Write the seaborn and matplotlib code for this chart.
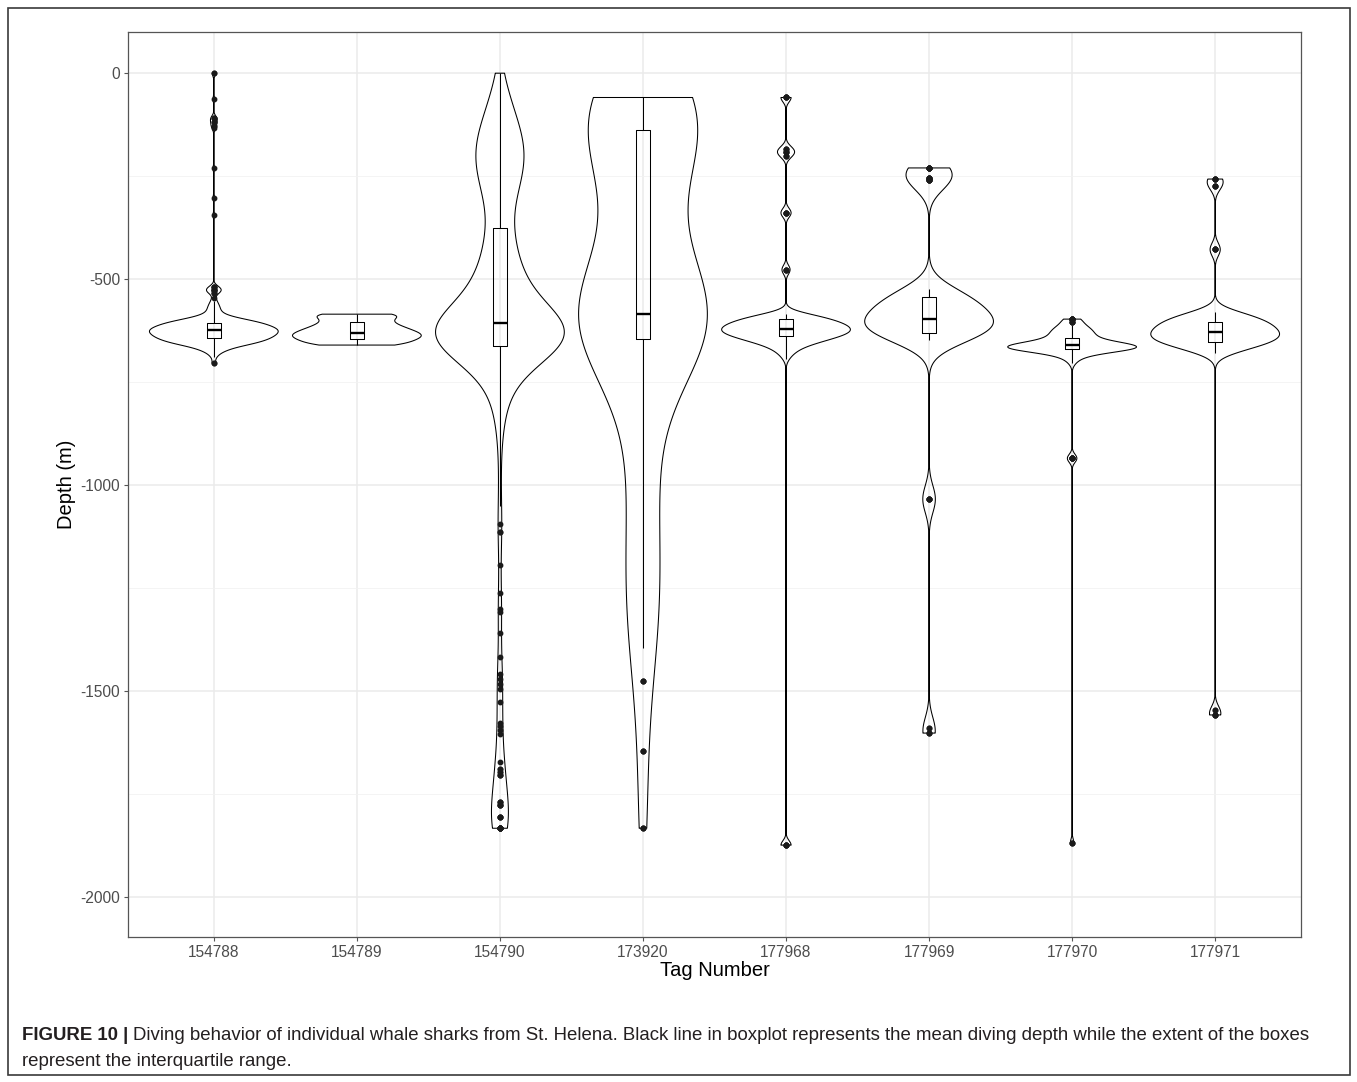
import numpy as np
import pandas as pd
import matplotlib
matplotlib.use("Agg")
import matplotlib.pyplot as plt
import seaborn as sns
from matplotlib.patches import Rectangle
from matplotlib.ticker import MultipleLocator, FuncFormatter

# ---------------------------------------------------------------------------
# Dive depth records per tag: depth value (m) and number of records at it
# ---------------------------------------------------------------------------
tags = ["154788", "154789", "154790", "173920", "177968", "177969", "177970", "177971"]

depth_154788 = [0, -63, -109, -118, -127, -134, -231, -303, -345, -520, -527, -533,
                -545, -553, -561, -569, -577, -585, -593, -600, -606, -612, -618,
                -624, -630, -636, -642, -648, -654, -660, -667, -674, -681, -689, -704]
count_154788 = [2, 1, 3, 2, 2, 1, 1, 1, 1, 4, 5, 3,
                1, 2, 3, 4, 4, 6, 12, 18, 22, 25, 28,
                30, 29, 28, 26, 24, 20, 16, 10, 6, 3, 2, 2]

depth_154789 = [-585, -590, -595, -600, -605, -610, -615, -620, -625, -630, -635,
                -640, -645, -650, -655, -660]
count_154789 = [15, 6, 6, 6, 6, 7, 8, 9, 10, 11, 12, 12, 11, 9, 8, 13]

depth_154790 = [0, -20, -40, -60, -80, -100, -120, -140, -160, -180, -200, -220, -240,
                -260, -280, -300, -320, -340, -360,
                -380, -400, -420, -440, -460, -480, -500, -520, -540, -560, -580, -600,
                -612, -628, -645, -660,
                -670, -680, -690, -700, -720, -740, -760, -780, -800, -830, -860, -900,
                -950, -1000, -1050, -1095,
                -1113, -1193, -1262, -1300, -1307, -1358, -1417, -1459, -1471, -1484,
                -1496, -1526, -1577, -1585, -1595, -1603, -1671, -1688, -1696, -1704,
                -1769, -1777, -1805, -1833]
count_154790 = [1, 2, 2, 3, 4, 5, 6, 7, 8, 9, 9, 9, 8,
                7, 6, 5, 4, 3, 2,
                5, 5, 5, 5, 6, 7, 8, 9, 10, 11, 13, 16,
                24, 26, 26, 24,
                7, 7, 7, 6, 5, 4, 4, 3, 3, 2, 2, 1,
                1, 1, 1, 1,
                2, 1, 1, 1, 1, 1, 1, 1, 1, 1,
                1, 1, 1, 1, 1, 1, 1, 2, 2, 3,
                3, 4, 4, 9]

depth_173920 = [-59, -70, -85, -100, -115, -130,
                -140, -180, -210, -250, -290, -330, -370, -410, -450, -490, -530, -580,
                -590, -605, -620, -640,
                -660, -720, -780, -840, -900, -960, -1020, -1080, -1140, -1200, -1260,
                -1320, -1396, -1476, -1646, -1833]
count_173920 = [10, 8, 8, 8, 8, 8,
                4, 4, 4, 3, 3, 3, 3, 4, 4, 5, 6, 7,
                12, 13, 13, 12,
                2, 2, 3, 3, 3, 3, 3, 3, 3, 4, 4,
                4, 4, 3, 3, 3]

depth_177968 = [-59, -183, -191, -200, -339, -477, -585, -591, -597, -603, -609, -615,
                -621, -627, -633, -639, -645, -651, -657, -663, -669, -675, -681, -687,
                -695, -1874]
count_177968 = [5, 3, 4, 3, 5, 4, 7, 8, 10, 12, 13, 14,
                15, 15, 14, 12, 10, 8, 6, 4, 3, 2, 2, 1,
                1, 5]

depth_177969 = [-230, -255, -260, -525, -535, -543, -555, -570, -585, -597, -610, -620,
                -631, -640, -648, -1034, -1590, -1602]
count_177969 = [8, 6, 6, 3, 3, 8, 7, 7, 7, 10, 9, 8,
                9, 5, 5, 5, 2, 3]

depth_177970 = [-597, -603, -612, -618, -624, -630, -636, -643, -650, -656, -661, -665,
                -669, -673, -678, -684, -690, -697, -704, -935, -1869]
count_177970 = [8, 4, 6, 8, 9, 9, 10, 12, 12, 18, 26, 28,
                24, 16, 10, 6, 4, 3, 2, 8, 3]

depth_177971 = [-257, -274, -428, -580, -588, -596, -604, -612, -620, -628, -636, -644,
                -652, -660, -668, -674, -680, -1545, -1558]
count_177971 = [5, 4, 5, 6, 8, 10, 11, 12, 12, 13, 14, 14,
                13, 10, 6, 4, 3, 2, 4]

depths = [depth_154788, depth_154789, depth_154790, depth_173920,
          depth_177968, depth_177969, depth_177970, depth_177971]
counts = [count_154788, count_154789, count_154790, count_173920,
          count_177968, count_177969, count_177970, count_177971]

# kernel bandwidth (m) used for each tag's density outline
kde_bandwidth_m = [7, 8, 60, 150, 11, 33, 10, 16]

records = pd.concat(
    [pd.DataFrame({"tag": t, "depth": np.repeat(np.asarray(d, float), c)})
     for t, d, c in zip(tags, depths, counts)],
    ignore_index=True,
)

# ---------------------------------------------------------------------------
# Figure
# ---------------------------------------------------------------------------
sns.set_theme(style="white")
plt.rcParams["font.family"] = ["Liberation Sans", "DejaVu Sans"]
plt.rcParams["axes.unicode_minus"] = False

W, H = 1357, 1082
fig = plt.figure(figsize=(W / 100, H / 100), dpi=100)
fig.patch.set_facecolor("white")

px_left, px_right, px_top, px_bottom = 128, 1301, 32, 937
ax = fig.add_axes([px_left / W, 1 - px_bottom / H,
                   (px_right - px_left) / W, (px_bottom - px_top) / H])
ax.set_facecolor("white")

for tag, h in zip(tags, kde_bandwidth_m):
    sub = records[records["tag"] == tag]
    factor = h / sub["depth"].std(ddof=1)
    sns.violinplot(data=sub, x="tag", y="depth", order=tags, ax=ax,
                   cut=0, inner=None, fill=False, density_norm="width",
                   width=0.9, bw_method=factor, gridsize=1500,
                   color="black", linewidth=0.75)

sns.boxplot(data=records, x="tag", y="depth", order=tags, ax=ax,
            width=0.1, fill=False, color="black", linewidth=0.75,
            showcaps=False, whis=1.5, fliersize=3.2,
            flierprops=dict(marker="o", markerfacecolor="#1a1a1a",
                            markeredgecolor="#1a1a1a"),
            medianprops=dict(linewidth=1.7, color="black"))

ax.set_xlim(-0.6, 7.6)
ax.set_ylim(-2097, 100)
ax.yaxis.set_major_locator(MultipleLocator(500))
ax.yaxis.set_minor_locator(MultipleLocator(250))
ax.yaxis.set_major_formatter(FuncFormatter(lambda v, p: f"{int(round(v))}"))

ax.set_axisbelow(True)
ax.grid(which="major", color="#ebebeb", linewidth=1.1)
ax.grid(which="minor", axis="y", color="#f2f2f2", linewidth=0.6)

for sp in ax.spines.values():
    sp.set_visible(True)
    sp.set_color("#555555")
    sp.set_linewidth(0.9)

ax.tick_params(axis="both", which="major", length=3.2, width=0.8, color="#555555",
               labelsize=11.2, labelcolor="#4d4d4d", pad=2.5)
ax.tick_params(axis="both", which="minor", length=0)
ax.tick_params(axis="x", which="major", bottom=True)
ax.tick_params(axis="y", which="major", left=True)

ax.set_xlabel("Tag Number", fontsize=14.5, color="black")
ax.set_ylabel("Depth (m)", fontsize=14.5, color="black")
ax.xaxis.label.set_va("center")
ax.yaxis.label.set_va("center")
ax.yaxis.label.set_ha("center")
ax.xaxis.set_label_coords(0.5, (px_bottom - 970) / (px_bottom - px_top))
ax.yaxis.set_label_coords((66 - px_left) / (px_right - px_left), 0.5)

# outer frame around the figure and its caption
fig.add_artist(Rectangle((8 / W, 1 - 1075 / H), (1350 - 8) / W, (1075 - 8) / H,
                         transform=fig.transFigure, fill=False,
                         edgecolor="#3a3a3a", linewidth=1.2))

cap_family = ["Liberation Sans Narrow", "Liberation Sans", "DejaVu Sans"]
cap_color = "#231f20"
bold_part = "FIGURE 10 | "
line1 = ("Diving behavior of individual whale sharks from St. Helena. Black line in "
         "boxplot represents the mean diving depth while the extent of the boxes")
line2 = "represent the interquartile range."

renderer = fig.canvas.get_renderer()
fs = 12.0
probe_b = fig.text(0, 0, bold_part, fontsize=fs, fontweight="bold", family=cap_family)
probe_r = fig.text(0, 0, line1, fontsize=fs, family=cap_family)
total = (probe_b.get_window_extent(renderer).width
         + probe_r.get_window_extent(renderer).width)
probe_b.remove()
probe_r.remove()
fs = fs * (1312 - 22) / total

x0 = 22
tb = fig.text(x0 / W, 1 - 1036 / H, bold_part, fontsize=fs, fontweight="bold",
              family=cap_family, color=cap_color, va="center", ha="left")
bw_px = tb.get_window_extent(renderer).width
fig.text((x0 + bw_px) / W, 1 - 1036 / H, line1, fontsize=fs, family=cap_family,
         color=cap_color, va="center", ha="left")
fig.text(x0 / W, 1 - 1062 / H, line2, fontsize=fs, family=cap_family,
         color=cap_color, va="center", ha="left")

fig.savefig("out.png", dpi=100, facecolor="white")
